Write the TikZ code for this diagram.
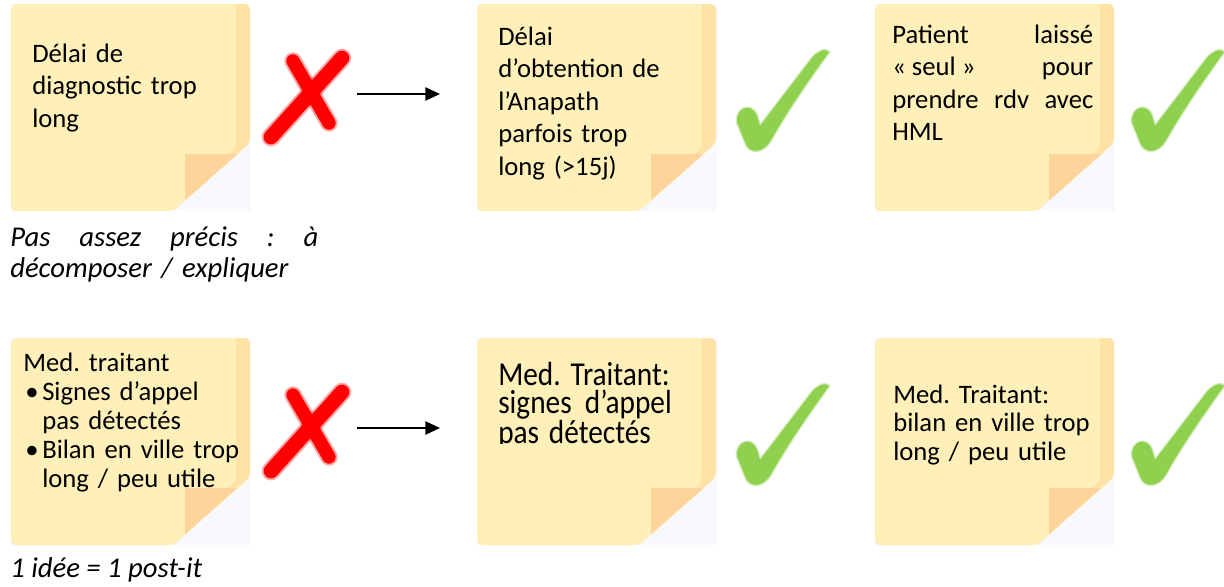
\documentclass[tikz,border=0pt]{standalone}
\usepackage{fontspec}
\setmainfont{Carlito}
\usetikzlibrary{arrows.meta}
\frenchspacing

\definecolor{noteLight}{HTML}{FFF0B9}
\definecolor{noteEdge}{HTML}{FFE2A5}
\definecolor{noteFold}{HTML}{FFD49B}
\definecolor{noteShade}{HTML}{F8F9FC}
\definecolor{crossRed}{HTML}{FF0000}
\definecolor{tickGreen}{HTML}{8FD14F}

% outline of a sticky note with its folded lower-right corner (local px)
\def\noteoutline{(0,100) -- (0,0) -- (239,0) -- (239,139) -- (162,207) -- (0,207) -- cycle}

% sticky note, top-left corner at (#1,#2)
\newcommand\stickynote[2]{%
  \begin{scope}[shift={(#1,#2)}]
    \fill[noteShade] (0,0) rectangle (240,207);
    \fill[noteEdge, rounded corners=4pt] \noteoutline;
    \begin{scope}
      \clip[rounded corners=4pt] \noteoutline;
      \fill[noteLight, rounded corners=9pt]
        (-10,-10) -- (225,-10) -- (225,150) -- (174,150) -- (174,220) -- (-10,220) -- cycle;
      \fill[noteFold] (174,150) rectangle (250,220);
    \end{scope}
  \end{scope}}

% red brush cross, shifted by (#1,#2)
\newcommand\redcross[2]{%
  \begin{scope}[shift={(#1,#2)}]
    \draw[crossRed, opacity=.35, line width=14pt, line cap=round] (271,137) -- (342,58);
    \draw[crossRed, opacity=.35, line width=13pt, line cap=round] (293,61) -- (329,123);
    \draw[crossRed, line width=11pt, line cap=round] (271,137) -- (342,58);
    \draw[crossRed, line width=10pt, line cap=round] (293,61) -- (329,123);
  \end{scope}}

% green brush tick, shifted by (#1,#2)
\newcommand\greentick[2]{%
  \begin{scope}[shift={(#1,#2)}]
    \filldraw[fill=tickGreen, draw=tickGreen, draw opacity=.4, line width=2pt]
      (737,122) .. controls (736,107) and (752,102) .. (757,116)
      -- (760,126) -- (812,58)
      .. controls (818,51) and (826,48) .. (829,52)
      .. controls (805,85) and (785,115) .. (771,140)
      .. controls (764,153) and (749,155) .. (745,142) -- cycle;
  \end{scope}}

\tikzset{
  notetext/.style={anchor=base west, inner sep=0pt, align=left, text width=175pt,
    font=\fontsize{20}{24.4}\selectfont},
  captiontext/.style={anchor=base west, inner sep=0pt,
    font=\fontsize{21.5}{23.25}\selectfont\itshape},
  linkarrow/.style={line width=1.1pt, -{Triangle[length=11pt,width=10pt]}},
}

\begin{document}
\begin{tikzpicture}[x=0.75pt, y=-0.75pt]
  \useasboundingbox (0,0) rectangle (1224,586);

  % notes
  \stickynote{11}{4}
  \stickynote{477}{4}
  \stickynote{875}{4}
  \stickynote{11}{338}
  \stickynote{477}{338}
  \stickynote{875}{338}

  % marks
  \redcross{0}{0}
  \redcross{0}{334}
  \greentick{0}{0}
  \greentick{395}{0}
  \greentick{0}{334}
  \greentick{395}{334}

  % arrows
  \coordinate (arrA start) at (357,94);
  \coordinate (arrA end) at (440,94);
  \coordinate (arrB start) at (357,428);
  \coordinate (arrB end) at (440,428);
  \draw[linkarrow] (arrA start) -- (arrA end);
  \draw[linkarrow] (arrB start) -- (arrB end);

  % top row texts
  \node[notetext] (noteA) at (32,62) {Délai de\\diagnostic trop\\long};
  \node[notetext] (noteB) at (498,45) {Délai\\d’obtention de\\l’Anapath\\parfois trop\\long (>15j)};
  \node[notetext, align=justify, text width=150.75pt] (noteC) at (892,43)
    {Patient\hfill laissé\\« seul »\hfill pour\\prendre\hfill rdv\hfill avec\\HML};

  \begin{scope}
    \clip (0,220) rectangle (400,282);
    \node[captiontext, text width=231pt] (captionA) at (10,246)
      {Pas\hfill assez\hfill précis\hfill :\hfill à\\décomposer / expliquer};
  \end{scope}

  % bottom row texts
  \node[notetext, font=\fontsize{20}{21.75}\selectfont] (noteD) at (23,371)
    {Med. traitant\\
     \makebox[14.25pt][l]{\hspace*{1.5pt}•}Signes d’appel\\
     \hspace*{14.25pt}pas détectés\\
     \makebox[14.25pt][l]{\hspace*{1.5pt}•}Bilan en ville trop\\
     \hspace*{14.25pt}long / peu utile};

  \begin{scope}
    \clip (480,340) rectangle (710,443);
    \node[notetext, font=\fontsize{22}{18.75}\selectfont, yscale=1.14, transform shape]
      (noteE) at (498,385) {Med. Traitant:\\signes\hspace{0.45em}d’appel\\pas détectés};
  \end{scope}

  \node[notetext, font=\fontsize{20}{21.4}\selectfont] (noteF) at (893,403)
    {Med. Traitant:\\bilan en ville trop\\long / peu utile};

  \node[captiontext] (captionB) at (10,577) {1 idée = 1 post-it};
\end{tikzpicture}
\end{document}
